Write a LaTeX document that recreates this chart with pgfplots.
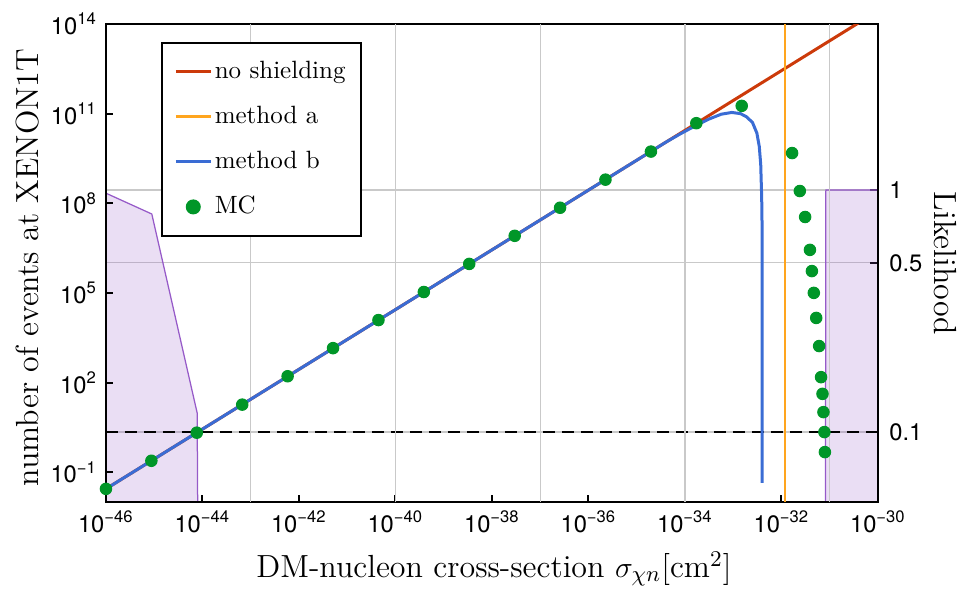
\documentclass[border=0pt]{standalone}
\usepackage{fontspec}
\usepackage{pgfplots}
\pgfplotsset{compat=1.18}
\newfontfamily\hv{TeX Gyre Heros}
\definecolor{cred}{RGB}{204,58,10}
\definecolor{corange}{RGB}{255,165,30}
\definecolor{cblue}{RGB}{58,108,212}
\definecolor{cgreen}{RGB}{0,150,40}
\definecolor{cpurple}{RGB}{150,90,200}
\begin{document}
\begin{tikzpicture}
% ---------- right axis: likelihood ----------
\begin{axis}[
  at={(0,0)}, anchor=south west, scale only axis,
  width=308.8pt, height=191.2pt,
  xmode=log, ymode=log,
  xmin=1e-46, xmax=1e-30, ymin=0.0514, ymax=4.85,
  hide x axis, axis y line*=right,
  axis line style={line width=0.8pt},
  ytick={0.1,0.5,1}, yticklabels={0.1,0.5,1},
  yminorticks=false, minor tick num=0,
  ymajorgrids, grid style={gray!42, line width=0.5pt},
  tick align=inside, major tick length=3pt,
  tick style={black, line width=0.8pt},
  ticklabel style={font=\hv\fontsize{9.5}{11}\selectfont},
  yticklabel style={xshift=1pt},
  ylabel={Likelihood},
  every axis y label/.style={at={(axis description cs:1.087,0.499)}, anchor=center, rotate=-90, font=\fontsize{12.8}{15}\selectfont},
]
\addplot[draw=cpurple, line width=0.5pt, fill=cpurple, fill opacity=0.2]
  coordinates {(1e-46,0.001) (1e-46,0.97) (8.91e-46,0.796) (7.76e-45,0.12) (8.91e-45,0.001) (1e-46,0.001)};
\addplot[draw=cpurple, line width=0.5pt, fill=cpurple, fill opacity=0.2]
  coordinates {(7.94e-32,0.001) (8.32e-32,1) (1e-30,1) (1e-30,0.001) (7.94e-32,0.001)};
\addplot[black, line width=1.1pt, dash pattern=on 5pt off 2.6pt] coordinates {(1e-46,0.1) (1e-30,0.1)};
\end{axis}
% ---------- left axis: events ----------
\begin{axis}[
  at={(0,0)}, anchor=south west, scale only axis,
  width=308.8pt, height=191.2pt,
  xmode=log, ymode=log,
  xmin=1e-46, xmax=1e-30, ymin=1e-2, ymax=1e14,
  axis line style={line width=0.8pt},
  tick pos=left, tick align=inside, major tick length=3pt,
  tick style={black, line width=0.8pt},
  xminorticks=false, yminorticks=false, minor tick num=0,
  xtick={1e-46,1e-44,1e-42,1e-40,1e-38,1e-36,1e-34,1e-32,1e-30},
  xticklabels={10\textsuperscript{−46},10\textsuperscript{−44},10\textsuperscript{−42},10\textsuperscript{−40},10\textsuperscript{−38},10\textsuperscript{−36},10\textsuperscript{−34},10\textsuperscript{−32},10\textsuperscript{−30}},
  ytick={1e-1,1e2,1e5,1e8,1e11,1e14},
  yticklabels={10\textsuperscript{−1},10\textsuperscript{2},10\textsuperscript{5},10\textsuperscript{8},10\textsuperscript{11},10\textsuperscript{14}},
  extra x ticks={1e-43,1e-40,1e-37,1e-34,1e-31},
  extra x tick labels={},
  extra x tick style={grid=major, major tick length=0pt},
  grid style={gray!42, line width=0.5pt},
  ticklabel style={font=\hv\fontsize{9.5}{11}\selectfont},
  xlabel={DM-nucleon cross-section $\sigma_{\chi n}$[cm$^2$]},
  ylabel={number of events at XENON1T},
  every axis x label/.style={at={(axis description cs:0.5026,-0.14)}, anchor=center, font=\fontsize{12.8}{15}\selectfont},
  every axis y label/.style={at={(axis description cs:-0.101,0.4906)}, anchor=center, rotate=90, font=\fontsize{12.8}{15}\selectfont},
  legend style={at={(axis description cs:0.071,0.962)}, anchor=north west,
    draw=black, line width=0.8pt, fill=white, inner xsep=5pt, inner ysep=6pt,
    font=\fontsize{10}{12}\selectfont, row sep=7pt,
    nodes={inner sep=1pt, text height=7pt, text depth=2pt}},
  legend cell align=left,
]
\addplot[cred, line width=1.2pt, legend image code/.code={\draw[cred, line width=1.2pt] (0pt,0pt) -- (14pt,0pt);}]
  coordinates {(1e-46,2.754e-2) (1e-30,2.754e14)};
\addlegendentry{no shielding}
\addplot[corange, line width=0.6pt, legend image code/.code={\draw[corange, line width=1.2pt] (0pt,0pt) -- (14pt,0pt);}]
  coordinates {(1.175e-32,1e-2) (1.175e-32,1e14)};
\addlegendentry{method a}
\addplot[cblue, line width=1.2pt, legend image code/.code={\draw[cblue, line width=1.2pt] (0pt,0pt) -- (14pt,0pt);}]
  coordinates {(1e-46,2.754e-2) (3.981e-35,1.096e10) (7.943e-35,2.089e10) (1.585e-34,3.802e10)
  (3.162e-34,6.607e10) (5.623e-34,9.550e10) (9.333e-34,1.096e11) (1.413e-33,1e11)
  (1.905e-33,7.762e10) (2.512e-33,5.012e10) (3.090e-33,2.239e10) (3.467e-33,7.943e9)
  (3.715e-33,1.995e9) (3.890e-33,1.585e8) (3.981e-33,1e7) (3.981e-33,4.365e-2)};
\addlegendentry{method b}
\addplot[only marks, mark=*, mark size=2.3pt, cgreen, mark options={draw=none, fill=cgreen},
  legend image code/.code={\fill[cgreen] (7pt,0pt) circle (2.6pt);}]
  coordinates {(1e-46,2.754e-2) (8.73e-46,0.240) (7.62e-45,2.09) (6.67e-44,18.2) (5.82e-43,162)
  (5.08e-42,1413) (4.44e-41,1.23e4) (3.87e-40,1.07e5) (3.38e-39,9.33e5) (2.96e-38,8.13e6)
  (2.58e-37,7.08e7) (2.25e-36,6.17e8) (1.97e-35,5.37e9) (1.72e-34,4.79e10) (1.50e-33,1.82e11)
  (1.66e-32,4.79e9) (2.40e-32,2.57e8) (3.09e-32,3.47e7) (3.89e-32,2.75e6) (4.27e-32,5.37e5)
  (4.68e-32,1.0e5) (5.25e-32,1.45e4) (6.03e-32,1.66e3) (6.61e-32,151) (7.08e-32,41.7)
  (7.41e-32,10.2) (7.76e-32,2.19) (7.94e-32,0.468)};
\addlegendentry{MC}
\end{axis}
\pgfresetboundingbox
\useasboundingbox (-42.4pt,-36pt) rectangle (346.8pt,200.8pt);
\end{tikzpicture}
\end{document}
